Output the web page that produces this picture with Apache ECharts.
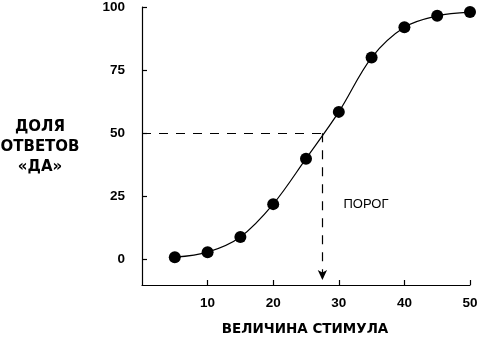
<!DOCTYPE html>
<html>
<head>
<meta charset="utf-8">
<script src="https://cdn.jsdelivr.net/npm/echarts@6/dist/echarts.min.js"></script>
<style>
  html, body { margin: 0; padding: 0; background: #fff; }
  #chart { width: 481px; height: 340px; }
</style>
</head>
<body>
<div id="chart"></div>
<script>
// Stimulus magnitudes and the share of "yes" answers (%)
const stimulus = [5, 10, 15, 20, 25, 30, 35, 40, 45, 50];
const yesShare = [1, 3, 9, 22, 40, 58.5, 80, 92, 96.5, 98];

// Tick labels on both axes
const yTicks = [0, 25, 50, 75, 100];
const xTicks = [10, 20, 30, 40, 50];

// Threshold: stimulus level where the share of "yes" answers reaches 50 %
const thresholdLevel = 50;
const thresholdStimulus = 27.5;
const arrowEnd = -8;

const FONT = '"Liberation Sans", Arial, sans-serif';
const TITLE_FONT = '"DejaVu Sans", sans-serif';

const chart = echarts.init(document.getElementById('chart'), null, { renderer: 'canvas' });

chart.setOption({
  animation: false,
  backgroundColor: '#ffffff',
  grid: { left: 142, right: 11, top: 6, bottom: 55 },
  xAxis: {
    type: 'value',
    min: 0,
    max: 50,
    axisLine: { show: true, onZero: false, lineStyle: { color: '#000', width: 1.2 } },
    axisTick: { show: true, inside: true, length: 5, customValues: xTicks, lineStyle: { color: '#000', width: 1.2 } },
    axisLabel: { customValues: xTicks, color: '#000', fontFamily: FONT, fontSize: 13.5, fontWeight: 'bold', margin: 11 },
    splitLine: { show: false }
  },
  yAxis: {
    type: 'value',
    min: -10,
    max: 100,
    axisLine: { show: true, onZero: false, lineStyle: { color: '#000', width: 1.2 } },
    axisTick: { show: true, inside: true, length: 5, customValues: yTicks, lineStyle: { color: '#000', width: 1.2 } },
    axisLabel: { customValues: yTicks, color: '#000', fontFamily: FONT, fontSize: 13.5, fontWeight: 'bold', margin: 17 },
    splitLine: { show: false }
  },
  series: [
    {
      type: 'line',
      data: stimulus.map((s, i) => [s, yesShare[i]]),
      smooth: 0.35,
      symbol: 'circle',
      symbolSize: 12,
      itemStyle: { color: '#000' },
      lineStyle: { color: '#000', width: 1.2 },
      z: 3,
      markLine: {
        silent: true,
        animation: false,
        label: { show: false },
        lineStyle: { color: '#000', width: 1.2, type: [9, 8] },
        data: [
          [
            { coord: [0, thresholdLevel], symbol: 'none' },
            { coord: [thresholdStimulus, thresholdLevel], symbol: 'none' }
          ],
          [
            { coord: [thresholdStimulus, thresholdLevel], symbol: 'none' },
            { coord: [thresholdStimulus, arrowEnd], symbol: 'arrow', symbolSize: [7, 10] }
          ]
        ]
      }
    }
  ],
  graphic: [
    {
      type: 'text',
      x: 40, y: 147,
      style: {
        text: 'ДОЛЯ\nОТВЕТОВ\n«ДА»',
        fill: '#000', font: 'bold 15px ' + TITLE_FONT,
        align: 'center', verticalAlign: 'middle', lineHeight: 20
      }
    },
    {
      type: 'text',
      x: 366, y: 204,
      style: {
        text: 'ПОРОГ',
        fill: '#000', font: '13px ' + FONT,
        align: 'center', verticalAlign: 'middle'
      }
    },
    {
      type: 'text',
      x: 305, y: 329,
      style: {
        text: 'ВЕЛИЧИНА СТИМУЛА',
        fill: '#000', font: 'bold 13.5px ' + TITLE_FONT,
        align: 'center', verticalAlign: 'middle'
      }
    }
  ]
});
</script>
</body>
</html>
